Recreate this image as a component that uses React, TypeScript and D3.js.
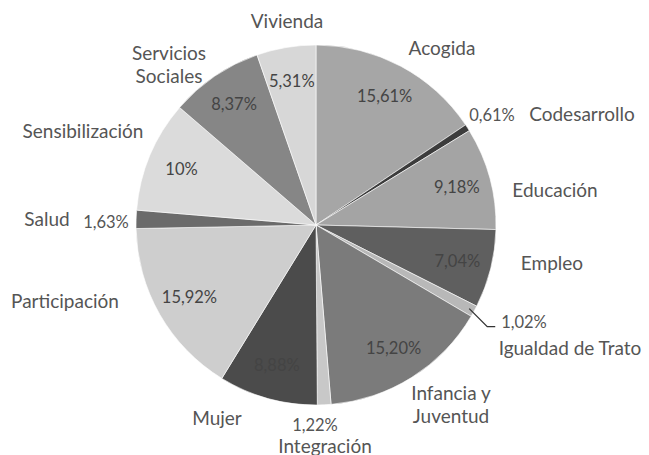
import React from "react";
import * as d3 from "d3";

const categories = [
  "Acogida", "Codesarrollo", "Educación", "Empleo", "Igualdad de Trato",
  "Infancia y Juventud", "Integración", "Mujer", "Participación", "Salud",
  "Sensibilización", "Servicios Sociales", "Vivienda",
];
const values = [15.61, 0.61, 9.18, 7.04, 1.02, 15.2, 1.22, 8.88, 15.92, 1.63, 10, 8.37, 5.31];
const valueLabels = ["15,61%", "0,61%", "9,18%", "7,04%", "1,02%", "15,20%", "1,22%", "8,88%", "15,92%", "1,63%", "10%", "8,37%", "5,31%"];
const colors = ["#a6a6a6", "#3c3c3c", "#a4a4a4", "#5f5f5f", "#b8b8b8", "#7b7b7b", "#c8c8c8", "#4b4b4b", "#cecece", "#6b6b6b", "#dbdbdb", "#868686", "#d7d7d7"];

// layout for text (name lines and percent position)
const nameLayout: { lines: string[]; x: number; y: number }[] = [
  { lines: ["Acogida"], x: 442, y: 47 },
  { lines: ["Codesarrollo"], x: 582, y: 113 },
  { lines: ["Educación"], x: 555, y: 189 },
  { lines: ["Empleo"], x: 552, y: 262 },
  { lines: ["Igualdad de Trato"], x: 570, y: 347 },
  { lines: ["Infancia y", "Juventud"], x: 451, y: 392 },
  { lines: ["Integración"], x: 325, y: 445 },
  { lines: ["Mujer"], x: 217, y: 417 },
  { lines: ["Participación"], x: 65, y: 300 },
  { lines: ["Salud"], x: 47, y: 218 },
  { lines: ["Sensibilización"], x: 83, y: 130 },
  { lines: ["Servicios", "Sociales"], x: 169, y: 52 },
  { lines: ["Vivienda"], x: 287, y: 20 },
];
// outside percent labels for thin slices (others go at centroid)
const outsidePct: Record<number, { x: number; y: number }> = {
  1: { x: 492, y: 115 },
  4: { x: 524, y: 322 },
  6: { x: 315, y: 425 },
  9: { x: 106, y: 222 },
};

export default function App() {
  const W = 649, H = 455;
  const cx = 316, cy = 225, r = 180;
  const pie = d3.pie<number>().sort(null).value((d) => d);
  const arcs = pie(values);
  const arc = d3.arc<d3.PieArcDatum<number>>().innerRadius(0).outerRadius(r);
  const labelArc = d3.arc<d3.PieArcDatum<number>>().innerRadius(r * 0.81).outerRadius(r * 0.81);
  const font = "Lato, 'Open Sans', sans-serif";
  const fsName = 19;
  const fsPct = 16.5;
  const ig = arcs[4];
  const igMid = (ig.startAngle + ig.endAngle) / 2;
  const lx0 = cx + Math.sin(igMid) * r * 0.97;
  const ly0 = cy - Math.cos(igMid) * r * 0.97;
  return (
    <svg width={W} height={H} style={{ position: "absolute", left: 0, top: 0, background: "#fff" }}>
      <g transform={`translate(${cx},${cy})`}>
        {arcs.map((a, i) => (
          <path key={i} d={arc(a) as string} fill={colors[i]} stroke="#ffffff" strokeWidth={0.6} />
        ))}
      </g>
      <path d={`M${lx0},${ly0} L${lx0 + 18},${ly0 + 18} L${lx0 + 26},${ly0 + 18}`} fill="none" stroke="#333" strokeWidth={1.3} />
      {arcs.map((a, i) => {
        const o = outsidePct[i];
        let x: number, y: number;
        if (o) { x = o.x; y = o.y; } else {
          const c = labelArc.centroid(a);
          x = cx + c[0]; y = cy + c[1];
        }
        return (
          <text key={"p" + i} x={x} y={y} textAnchor="middle" dominantBaseline="central"
            fontFamily={font} fontSize={fsPct} fill={o ? "#555" : "#444"}>{valueLabels[i]}</text>
        );
      })}
      {nameLayout.map((n, i) => (
        <text key={"n" + i} textAnchor="middle" fontFamily={font} fontSize={fsName} fill="#555">
          {n.lines.map((l, j) => (
            <tspan key={j} x={n.x} y={n.y + j * 23} dominantBaseline="central">{l}</tspan>
          ))}
        </text>
      ))}
    </svg>
  );
}
